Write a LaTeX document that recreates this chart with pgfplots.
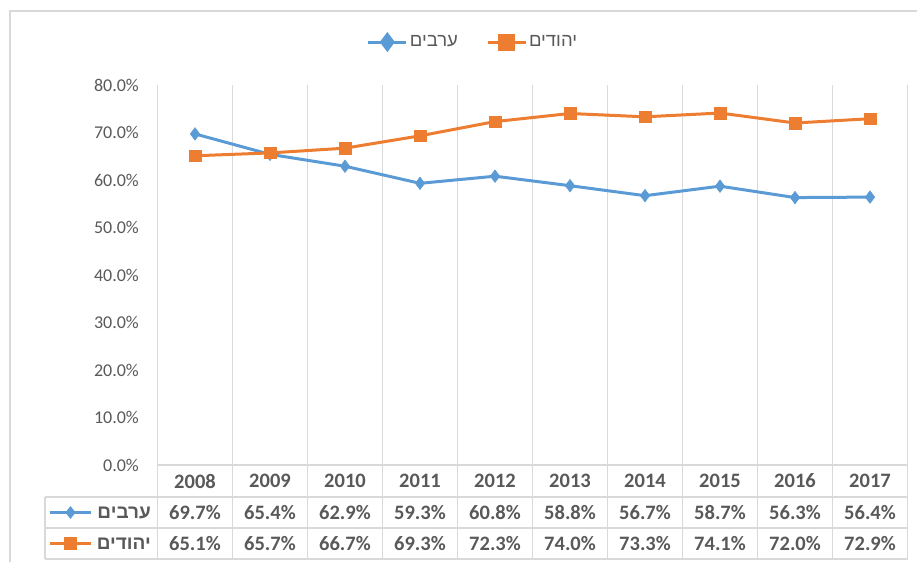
\documentclass[border=0pt]{standalone}
\usepackage{fontspec}
\setmainfont{Carlito}
\newfontfamily\hebfont[Script=Hebrew]{Liberation Sans}
\usepackage{pgfplots}
\pgfplotsset{compat=1.18}
\TeXXeTstate=1
\definecolor{cblue}{HTML}{5B9BD5}
\definecolor{corange}{HTML}{ED7D31}
\definecolor{cgrid}{HTML}{D9D9D9}
\definecolor{ctext}{HTML}{595959}
\begin{document}
\begin{tikzpicture}[x=1pt,y=1pt]
\useasboundingbox (0,0) rectangle (917,562);
\draw[cgrid, line width=1.3pt] (10,0) -- (10,551) -- (917,551);
\begin{axis}[at={(157.5pt,97pt)}, anchor=south west, scale only axis,
  width=750pt, height=380pt,
  xmin=-0.5, xmax=9.5, ymin=0, ymax=80,
  xtick={-0.5,0.5,1.5,2.5,3.5,4.5,5.5,6.5,7.5,8.5,9.5}, xticklabels={},
  xmajorgrids, major grid style={cgrid, line width=1.3pt},
  ytick={0,10,...,80},
  axis line style={draw=none},
  major tick length=0pt,
  /pgf/number format/assume math mode=true,
  yticklabel={\pgfmathprintnumber[fixed,fixed zerofill,precision=1]{\tick}\%},
  yticklabel style={font=\fontsize{18}{20}\selectfont, text=ctext, inner sep=0pt, xshift=-18.5pt},
  legend style={at={(0.4207,1.113)}, anchor=center, draw=none, fill=none,
    font=\fontsize{18.5}{20}\selectfont\hebfont, text=ctext,
    /tikz/every even column/.append style={column sep=26pt}},
  legend columns=2,
  legend image code/.code={\draw[#1, mark repeat=2, mark phase=2, mark options={scale=1.2}] plot coordinates {(0pt,0pt)(19pt,0pt)(38pt,0pt)};},
]
\addplot[cblue, line width=3pt, mark=diamond*, mark size=6.3pt, mark options={line width=0.5pt}]
  coordinates {(0,69.7)(1,65.4)(2,62.9)(3,59.3)(4,60.8)(5,58.8)(6,56.7)(7,58.7)(8,56.3)(9,56.4)};
\addlegendentry{\beginR ערבים\endR}
\addplot[corange, line width=3pt, mark=square*, mark size=5.8pt, mark options={line width=0.5pt}]
  coordinates {(0,65.1)(1,65.7)(2,66.7)(3,69.3)(4,72.3)(5,74.0)(6,73.3)(7,74.1)(8,72.0)(9,72.9)};
\addlegendentry{\beginR יהודים\endR}
\end{axis}
% data table grid
\begin{scope}[cgrid, line width=1.3pt]
\draw (157.5,97) -- (907.5,97);
\foreach \y in {65,34,3} \draw (45,\y) -- (907.5,\y);
\draw (45,3) -- (45,65);
\foreach \i in {0,...,10} \draw (157.5+75*\i,3) -- (157.5+75*\i,97);
\end{scope}
\foreach \yr [count=\i from 0] in {2008,2009,2010,2011,2012,2013,2014,2015,2016,2017}
  \node[text=ctext, font=\fontsize{20.5}{22}\selectfont\bfseries] at (195+75*\i,81) {\yr};
\foreach \v [count=\i from 0] in {69.7,65.4,62.9,59.3,60.8,58.8,56.7,58.7,56.3,56.4}
  \node[text=ctext, font=\fontsize{20.5}{22}\selectfont\bfseries] at (195+75*\i,49.5) {\v\%};
\foreach \v [count=\i from 0] in {65.1,65.7,66.7,69.3,72.3,74.0,73.3,74.1,72.0,72.9}
  \node[text=ctext, font=\fontsize{20.5}{22}\selectfont\bfseries] at (195+75*\i,18.5) {\v\%};
% row headers
\draw[cblue, line width=3pt] (50,49.5) -- (91,49.5);
\fill[cblue] (70.5,56) -- (75.5,49.5) -- (70.5,43) -- (65.5,49.5) -- cycle;
\node[anchor=east, text=ctext, font=\fontsize{19}{20}\selectfont\hebfont\bfseries, inner sep=0pt] at (151,49.5) {\beginR ערבים\endR};
\draw[corange, line width=3pt] (50,18.5) -- (91,18.5);
\fill[corange] (64,12) rectangle (77,25);
\node[anchor=east, text=ctext, font=\fontsize{19}{20}\selectfont\hebfont\bfseries, inner sep=0pt] at (151,18.5) {\beginR יהודים\endR};
\end{tikzpicture}
\end{document}
